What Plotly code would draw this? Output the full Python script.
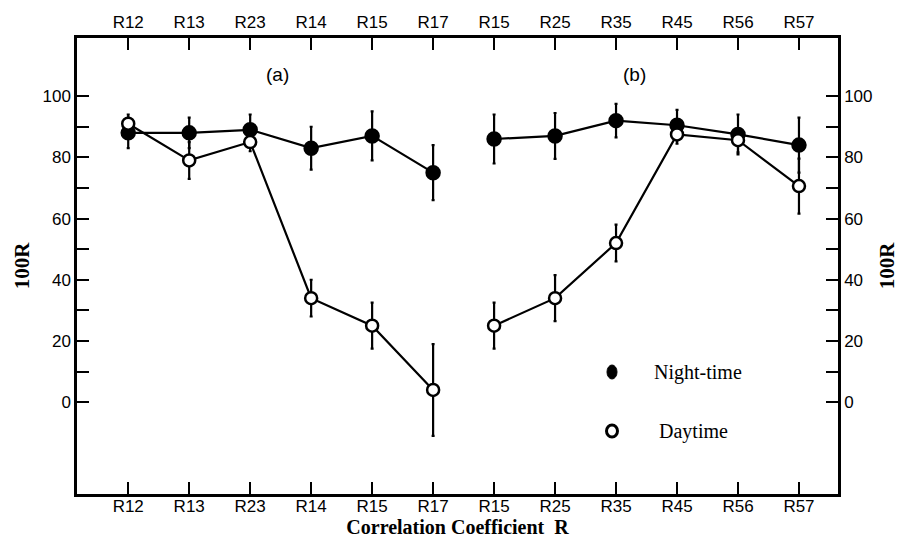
import plotly.graph_objects as go

categories = ["R12", "R13", "R23", "R14", "R15", "R17",
              "R15", "R25", "R35", "R45", "R56", "R57"]
x_a = [0, 1, 2, 3, 4, 5]
x_b = [6, 7, 8, 9, 10, 11]

night_a = [88, 88, 89, 83, 87, 75]
night_a_err = [5, 5, 5, 7, 8, 9]
day_a = [91, 79, 85, 34, 25, 4]
day_a_err = [3, 6, 3, 6, 7.5, 15]

night_b = [86, 87, 92, 90.5, 87.5, 84]
night_b_err = [8, 7.5, 5.5, 5, 6.5, 9]
day_b = [25, 34, 52, 87.5, 85.6, 70.6]
day_b_err = [7.5, 7.5, 6, 3, 4, 9]

legend_labels = ["Night-time", "Daytime"]

SANS = "Liberation Sans, Arial, sans-serif"
SERIF = "Liberation Serif, Times New Roman, serif"

fig = go.Figure()

def add(xs, ys, errs, filled):
    fig.add_trace(go.Scatter(
        x=xs, y=ys, mode="lines+markers", showlegend=False,
        line=dict(color="black", width=2.2),
        marker=dict(size=13 if filled else 12, symbol="circle",
                    color="black" if filled else "white",
                    line=dict(color="black", width=2.5)),
        error_y=dict(type="data", array=errs, visible=True,
                     color="black", thickness=2.2, width=1.5),
    ))

add(x_a, night_a, night_a_err, True)
add(x_b, night_b, night_b_err, True)
add(x_a, day_a, day_a_err, False)
add(x_b, day_b, day_b_err, False)

xr = [-0.84, 11.64]
yr = [-30, 119]

tickfont = dict(family=SANS, size=17, color="black")
ytitle = dict(text="<b>100R</b>", font=dict(family=SERIF, size=21, color="black"),
              standoff=8)

common = dict(ticks="inside", ticklen=12, tickwidth=2, tickcolor="black",
              showline=True, linecolor="black", linewidth=2.5,
              showgrid=False, zeroline=False, tickfont=tickfont,
              automargin=False)

fig.update_layout(
    width=910, height=543,
    margin=dict(l=77, r=72, t=38, b=49),
    paper_bgcolor="white", plot_bgcolor="white",
    showlegend=False,
    xaxis=dict(range=xr, tickvals=list(range(12)), ticktext=categories,
               ticklabelstandoff=-5,
               title=dict(text="<b>Correlation Coefficient  R</b>",
                          font=dict(family=SERIF, size=20, color="black"),
                          standoff=2), **common),
    xaxis2=dict(range=xr, tickvals=list(range(12)), ticktext=categories,
                overlaying="x", side="top", **common),
    yaxis=dict(range=yr, tickvals=[0, 20, 40, 60, 80, 100],
               minor=dict(tickvals=[10, 30, 50, 70, 90], ticks="inside",
                          ticklen=12, tickwidth=2, tickcolor="black"),
               title=ytitle, **common),
    yaxis2=dict(range=yr, tickvals=[0, 20, 40, 60, 80, 100],
                overlaying="y", side="right",
                minor=dict(tickvals=[10, 30, 50, 70, 90], ticks="inside",
                           ticklen=12, tickwidth=2, tickcolor="black"),
                title=ytitle, **common),
)

# dummy trace to activate top / right axes
fig.add_trace(go.Scatter(x=[None], y=[None], xaxis="x2", yaxis="y2",
                         showlegend=False, hoverinfo="skip"))

# panel labels
fig.add_annotation(x=2.45, y=107, xref="x", yref="y", text="(a)",
                   showarrow=False, font=dict(family=SANS, size=19, color="black"))
fig.add_annotation(x=8.3, y=107, xref="x", yref="y", text="(b)",
                   showarrow=False, font=dict(family=SANS, size=19, color="black"))

# legend (drawn in paper space)
W = 910 - 77 - 72
H = 543 - 38 - 49
legend_pos = [(372, 652), (431, 657)]
for label, filled, (py_px, tx_px) in zip(legend_labels, [True, False], legend_pos):
    py = (494 - py_px) / H
    fig.add_annotation(x=(tx_px - 77) / W, y=py, xref="paper", yref="paper",
                       text=label, showarrow=False, xanchor="left",
                       yanchor="middle",
                       font=dict(family=SERIF, size=20, color="black"))
    cx = (612 - 77) / W
    rx = (5 if filled else 5.5) / W
    ry = 7 / H if filled else 6 / H
    fig.add_shape(type="circle", xref="paper", yref="paper",
                  x0=cx - rx, x1=cx + rx, y0=py - ry, y1=py + ry,
                  fillcolor="black" if filled else "white",
                  line=dict(color="black", width=3 if not filled else 1))

fig.write_html("out.html")
